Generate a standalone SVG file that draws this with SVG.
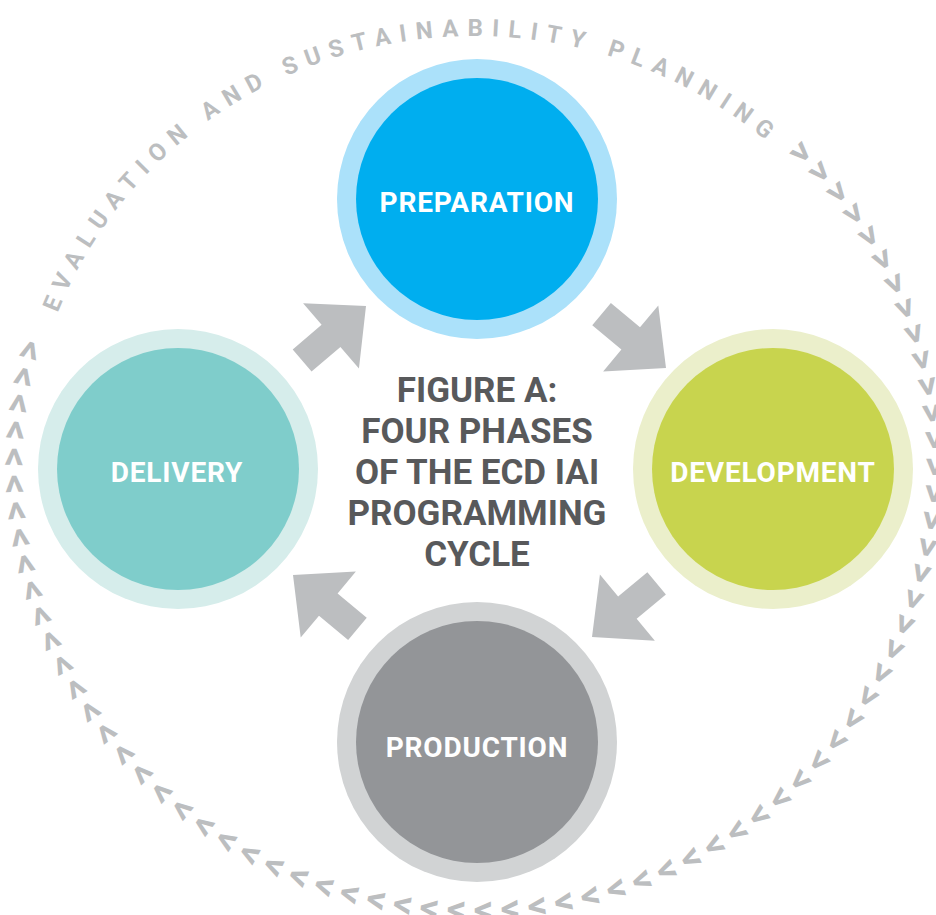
<svg xmlns="http://www.w3.org/2000/svg" xmlns:xlink="http://www.w3.org/1999/xlink" width="936" height="915" viewBox="0 0 936 915">
<style>
.ring-text{font-family:Roboto,"Liberation Sans",sans-serif;font-weight:700;font-size:24px;fill:#BCBEC0;letter-spacing:9.33px;dominant-baseline:central}
.chev{font-family:Roboto,"Liberation Sans",sans-serif;font-weight:700;font-size:38px;fill:#BCBEC0;letter-spacing:7.45px;dominant-baseline:central}
.label{font-family:Roboto,"Liberation Sans",sans-serif;font-weight:700;font-size:28px;fill:#FFFFFF;text-anchor:middle;letter-spacing:0.8px}
.title{font-family:Roboto,"Liberation Sans",sans-serif;font-weight:700;font-size:35px;fill:#58595B;text-anchor:middle}
.arrow{fill:#BCBEC0}
</style>
<defs>
<path id="ringPath" d="M45.2,323.4 A454,438 0 0 1 622.3,51.9 A454,438 0 0 1 903.8,608.6 A454,438 0 0 1 326.7,880.1 A454,438 0 0 1 45.2,323.4" fill="none"/>
<path id="chevPath" d="M37.7,320.8 A462,446 0 0 1 624.9,44.3 A462,446 0 0 1 911.3,611.2 A462,446 0 0 1 324.1,887.7 A462,446 0 0 1 37.7,320.8" fill="none"/>
<polygon id="arr" points="0,0 -46,-43 -46,-14.5 -84,-14.5 -84,14.5 -46,14.5 -46,43"/>
</defs>
<rect width="936" height="915" fill="#FFFFFF"/>
<g id="ring">
<text class="ring-text"><textPath xlink:href="#ringPath" href="#ringPath" startOffset="14.7">EVALUATION AND SUSTAINABILITY PLANNING</textPath></text>
<text class="chev"><textPath xlink:href="#chevPath" href="#chevPath" startOffset="916.8">&gt;&gt;&gt;&gt;&gt;&gt;&gt;&gt;&gt;&gt;&gt;&gt;&gt;&gt;&gt;&gt;&gt;&gt;&gt;&gt;&gt;&gt;&gt;&gt;&gt;&gt;&gt;&gt;&gt;&gt;&gt;&gt;&gt;&gt;&gt;&gt;&gt;&gt;&gt;&gt;&gt;&gt;&gt;&gt;&gt;&gt;&gt;&gt;&gt;&gt;&gt;&gt;&gt;&gt;&gt;&gt;&gt;&gt;&gt;&gt;&gt;&gt;&gt;&gt;&gt;&gt;&gt;&gt;&gt;&gt;&gt;</textPath></text>
</g>
<g id="preparation">
<circle cx="477" cy="199" r="140" fill="#ABE1FA"/>
<circle cx="477" cy="199" r="121" fill="#00AEEF"/>
<text class="label" x="477" y="211.5">PREPARATION</text>
</g>
<g id="development">
<circle cx="773" cy="469" r="140" fill="#EBEFCB"/>
<circle cx="773" cy="469" r="121" fill="#C8D44E"/>
<text class="label" x="773" y="481.5">DEVELOPMENT</text>
</g>
<g id="production">
<circle cx="477" cy="742" r="140" fill="#D1D3D4"/>
<circle cx="477" cy="742" r="121" fill="#939598"/>
<text class="label" x="477" y="756.5">PRODUCTION</text>
</g>
<g id="delivery">
<circle cx="178" cy="469" r="140" fill="#D6EDEB"/>
<circle cx="178" cy="469" r="121" fill="#7FCDCB"/>
<text class="label" x="177" y="481.5">DELIVERY</text>
</g>
<g id="title">
<text class="title" x="477" y="401.5">FIGURE A:</text>
<text class="title" x="477" y="443">FOUR PHASES</text>
<text class="title" x="477" y="483.5">OF THE ECD IAI</text>
<text class="title" x="477" y="525">PROGRAMMING</text>
<text class="title" x="477" y="566">CYCLE</text>
</g>
<g id="connectors" class="arrow">
<use href="#arr" xlink:href="#arr" transform="translate(366,306) rotate(-40.5)"/>
<use href="#arr" xlink:href="#arr" transform="translate(666,368) rotate(39.9)"/>
<use href="#arr" xlink:href="#arr" transform="translate(592,637) rotate(140.3)"/>
<use href="#arr" xlink:href="#arr" transform="translate(293,575) rotate(-140.1)"/>
</g>
</svg>
